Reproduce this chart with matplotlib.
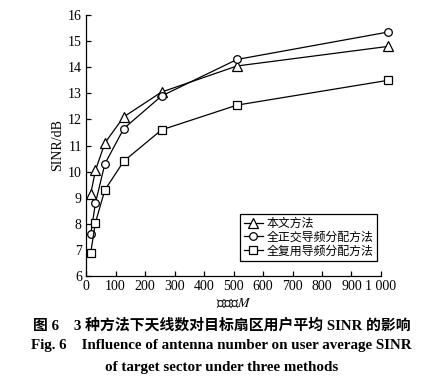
import matplotlib
matplotlib.use('Agg')
import matplotlib.pyplot as plt

plt.rcParams['font.family'] = ['Liberation Serif', 'Noto Sans CJK SC']
plt.rcParams['mathtext.fontset'] = 'stix'

# antenna numbers and average SINR (dB)
M = [16, 32, 64, 128, 256, 512, 1024]
sinr_proposed = [9.15, 10.05, 11.1, 12.1, 13.05, 14.05, 14.8]
sinr_orthogonal = [7.6, 8.8, 10.3, 11.65, 12.9, 14.3, 15.35]
sinr_reuse = [6.9, 8.05, 9.3, 10.4, 11.6, 12.55, 13.5]
labels = ['本文方法', '全正交导频分配方法', '全复用导频分配方法']
xticks = [0, 100, 200, 300, 400, 500, 600, 700, 800, 900, 1000]
xticklabels = ['0', '100', '200', '300', '400', '500', '600', '700', '800', '900', '1 000']

fig = plt.figure(figsize=(4.29, 3.87), dpi=100)
ax = fig.add_axes([0.2005, 0.2868, 0.6876, 0.6742])

style = dict(color='black', lw=0.9, mfc='white', mec='black', mew=0.9, clip_on=False)
ax.plot(M, sinr_proposed, marker='^', ms=6.5, label=labels[0], **style)
ax.plot(M, sinr_orthogonal, marker='o', ms=5.5, label=labels[1], **style)
ax.plot(M, sinr_reuse, marker='s', ms=5.5, label=labels[2], **style)

ax.set_xlim(0, 1000)
ax.set_ylim(6, 16)
ax.set_xticks(xticks)
ax.set_xticklabels(xticklabels)
ax.set_yticks(range(6, 17))
ax.tick_params(direction='in', length=3.5, width=0.9, labelsize=10, pad=3)
for s in ['top', 'right']:
    ax.spines[s].set_visible(False)
for s in ['left', 'bottom']:
    ax.spines[s].set_linewidth(0.9)

ax.set_xlabel('天线数$M$', fontsize=10, labelpad=2)
ax.set_ylabel('SINR/dB', fontsize=10, labelpad=3)

leg = ax.legend(loc='lower right', bbox_to_anchor=(0.986, 0.0575), borderaxespad=0,
                fontsize=8.6, handlelength=1.6, handletextpad=0.3, labelspacing=0.15,
                borderpad=0.3, fancybox=False, framealpha=1, edgecolor='black')
leg.get_frame().set_linewidth(0.9)

cx = 221.5 / 429
fig.text(cx, 1 - 325 / 387, '图 6　3 种方法下天线数对目标扇区用户平均 SINR 的影响',
         ha='center', va='center', fontsize=10.7, fontweight='bold')
fig.text(cx, 1 - 346 / 387, 'Fig. 6    Influence of antenna number on user average SINR',
         ha='center', va='center', fontsize=10.8, fontweight='bold')
fig.text(cx, 1 - 367 / 387, 'of target sector under three methods',
         ha='center', va='center', fontsize=10.8, fontweight='bold')

fig.savefig('out.png', dpi=100)
